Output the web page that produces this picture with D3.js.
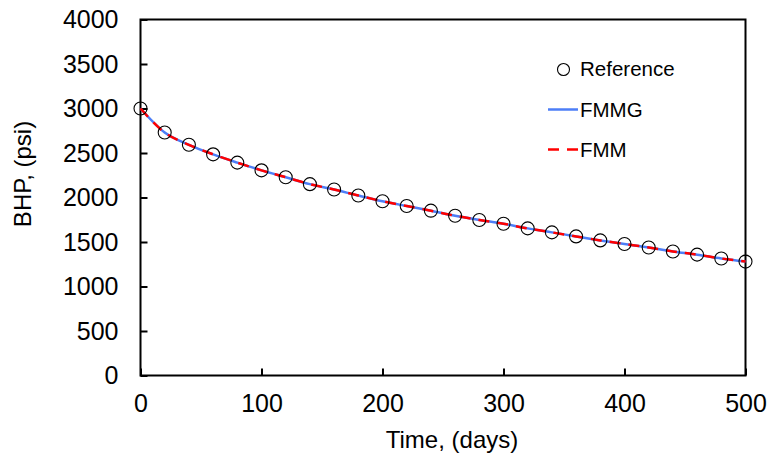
<!DOCTYPE html>
<html><head><meta charset="utf-8">
<script src="https://cdn.jsdelivr.net/npm/d3@7"></script>
<style>body{margin:0;background:#fff}text{font-family:"Liberation Sans",Arial,sans-serif;fill:#000}</style>
</head><body><svg id="c" width="769" height="462"></svg>
<script>
const time = [0,20,40,60,80,100,120,140,160,180,200,220,240,260,280,300,320,340,360,380,400,420,440,460,480,500];
const reference = [3000,2730,2592,2485,2392,2305,2228,2150,2090,2022,1958,1904,1852,1795,1748,1705,1653,1608,1563,1518,1478,1438,1394,1358,1315,1280];
const fmmg = [3000,2730,2592,2485,2392,2305,2228,2150,2090,2022,1958,1904,1852,1795,1748,1705,1653,1608,1563,1518,1478,1438,1394,1358,1315,1280];
const fmm = [3000,2730,2592,2485,2392,2305,2228,2150,2090,2022,1958,1904,1852,1795,1748,1705,1653,1608,1563,1518,1478,1438,1394,1358,1315,1280];
const xTicks = [0,100,200,300,400,500];
const yTicks = [0,500,1000,1500,2000,2500,3000,3500,4000];
const seriesNames = ["Reference","FMMG","FMM"];

const svg = d3.select("#c");
const L=140.5, R=745.5, T=19.5, B=375.5;
const x = d3.scaleLinear().domain([0,500]).range([L,R]);
const y = d3.scaleLinear().domain([0,4000]).range([B,T]);

svg.append("rect").attr("x",L).attr("y",T).attr("width",R-L).attr("height",B-T)
  .attr("fill","none").attr("stroke","#000").attr("stroke-width",2);

const xa = svg.append("g").attr("transform",`translate(0,${B})`)
  .call(d3.axisBottom(x).tickValues(xTicks).tickSize(-7).tickPadding(19).tickFormat(d3.format("d")));
const ya = svg.append("g").attr("transform",`translate(${L},0)`)
  .call(d3.axisLeft(y).tickValues(yTicks).tickSize(-7).tickPadding(22).tickFormat(d3.format("d")));
[xa,ya].forEach(a=>{
  a.select(".domain").remove();
  a.selectAll(".tick line").attr("stroke","#000").attr("stroke-width",2);
  a.selectAll(".tick text").attr("font-size",25).attr("font-family","Liberation Sans, Arial, sans-serif").attr("fill","#000");
});

const pts = time.map((t,i)=>({t, r:reference[i], g:fmmg[i], m:fmm[i]}));
const lineG = d3.line().x(d=>x(d.t)).y(d=>y(d.g)).curve(d3.curveMonotoneX);
const lineM = d3.line().x(d=>x(d.t)).y(d=>y(d.m)).curve(d3.curveMonotoneX);
svg.append("path").datum(pts).attr("d",lineG).attr("fill","none").attr("stroke","#4d7ef7").attr("stroke-width",2.5);
svg.append("path").datum(pts).attr("d",lineM).attr("fill","none").attr("stroke","#ff0000").attr("stroke-width",2.5).attr("stroke-dasharray","11,8");
svg.append("g").selectAll("circle").data(pts).join("circle")
  .attr("cx",d=>x(d.t)).attr("cy",d=>y(d.r)).attr("r",6.5)
  .attr("fill","none").attr("stroke","#000").attr("stroke-width",1.1);

svg.append("text").attr("x",452).attr("y",448).attr("text-anchor","middle").attr("font-size",24).text("Time, (days)");
svg.append("text").attr("transform","translate(30.5,174) rotate(-90)").attr("text-anchor","middle").attr("font-size",24).text("BHP, (psi)");

const lg = svg.append("g");
lg.append("circle").attr("cx",563.5).attr("cy",69.5).attr("r",6).attr("fill","none").attr("stroke","#000").attr("stroke-width",1.1);
lg.append("text").attr("x",580).attr("y",76).attr("font-size",20.5).text(seriesNames[0]);
lg.append("line").attr("x1",548).attr("x2",578).attr("y1",109.5).attr("y2",109.5).attr("stroke","#4d7ef7").attr("stroke-width",2.5);
lg.append("text").attr("x",580).attr("y",116.5).attr("font-size",20.5).text(seriesNames[1]);
lg.append("line").attr("x1",548).attr("x2",578).attr("y1",149.5).attr("y2",149.5).attr("stroke","#ff0000").attr("stroke-width",2.5).attr("stroke-dasharray","11,8");
lg.append("text").attr("x",580).attr("y",156.5).attr("font-size",20.5).text(seriesNames[2]);
</script></body></html>
